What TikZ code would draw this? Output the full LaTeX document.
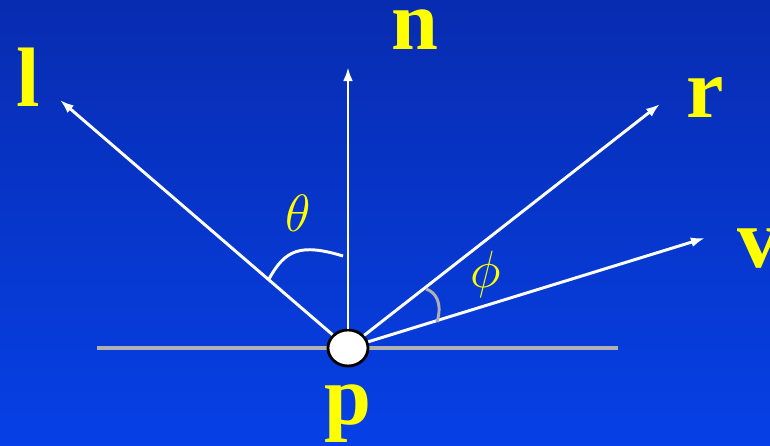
\documentclass[tikz,border=0pt]{standalone}
\usepackage{graphicx}
\usepackage{fontspec}
\setmainfont{Liberation Serif}
\usetikzlibrary{arrows.meta,shapes.geometric}
\definecolor{SkyTop}{RGB}{8,44,176}
\definecolor{SkyBottom}{RGB}{6,64,230}
\definecolor{Label}{RGB}{255,255,0}
\definecolor{Floor}{RGB}{176,176,176}
\newcommand{\bigangle}[1]{\scalebox{1.5}{$#1$}}

\begin{document}
\begin{tikzpicture}[
    ray/.style={draw=white,line width=2.1pt,-{Latex[length=10pt,width=7pt]}},
    vec/.style={text=Label,font=\fontsize{60}{60}\selectfont\bfseries,inner sep=0pt,anchor=base},
    ang/.style={text=Label,font=\fontsize{24.88}{24.88}\selectfont,inner sep=0pt},
    point/.style={ellipse,draw=black,fill=white,line width=2pt,
      minimum width=1cm,minimum height=0.9cm,inner sep=0pt}]
  \shade[top color=SkyTop,bottom color=SkyBottom] (-8.7,-2.45) rectangle (10.55,8.7);
  \useasboundingbox (-8.7,-2.45) rectangle (10.55,8.7);
  % surface
  \coordinate (sl) at (-6.275,0);
  \coordinate (sr) at (6.75,0);
  \draw[Floor,line width=2.4pt] (sl) -- (sr);
  \node[point] (p) at (0,0) {};
  % vector tips
  \coordinate (ltip) at (-7.2,6.2);
  \coordinate (ntip) at (0,7.025);
  \coordinate (rtip) at (7.8,6.1);
  \coordinate (vtip) at (8.925,2.75);
  \draw[ray] (p) -- (ltip);
  \draw[ray] (p) -- (ntip);
  \draw[ray] (p) -- (rtip);
  \draw[ray] (p) -- (vtip);
  % angles
  \coordinate (ta) at (-1.975,1.725);
  \coordinate (tb) at (-0.125,2.3);
  \draw[white,line width=2.1pt] (ta) .. controls (-1.575,2.45) and (-1.2,2.625) .. (tb);
  \coordinate (pa) at (1.95,1.475);
  \coordinate (pb) at (2.225,0.65);
  \draw[Floor,line width=2.1pt] (pa) .. controls (2.175,1.4) and (2.375,1.15) .. (pb);
  \node[ang] (th) at (-1.25,3.375) {\bigangle{\theta}};
  \node[ang] (ph) at (3.45,1.85) {\bigangle{\phi}};
  % labels
  \node[vec] (nl) at (1.675,7.45) {n};
  \node[vec] (ll) at (-8.0,6.025) {l};
  \node[vec] (rl) at (8.925,5.75) {r};
  \node[vec,anchor=base west] (vl) at (9.725,2.0) {v};
  \node[vec] (pl) at (0,-1.925) {p};
\end{tikzpicture}
\end{document}
